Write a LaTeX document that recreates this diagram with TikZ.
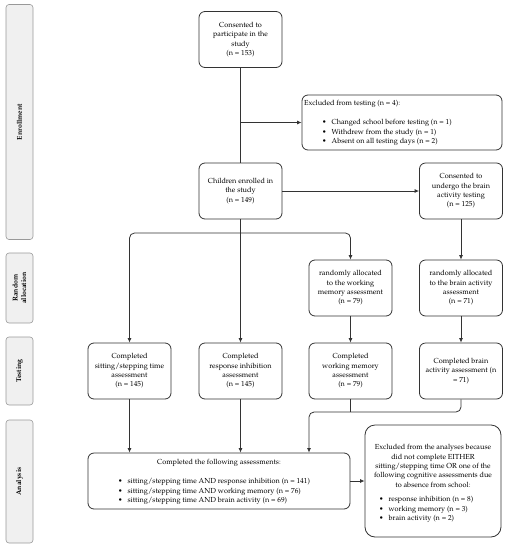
\documentclass[tikz,border=0pt]{standalone}
\usepackage[T1]{fontenc}
\usepackage{mathpazo}
\usetikzlibrary{arrows.meta}
\definecolor{lc}{HTML}{333333}
\tikzset{
  box/.style={draw=lc, line width=0.8pt, rounded corners=6pt, align=center, inner sep=1pt,
    font=\fontsize{7.3}{9.4}\selectfont, text=black},
  std/.style={box, minimum width=83pt, minimum height=56pt},
  phase/.style={draw=gray!80, fill=gray!12, line width=0.6pt, rounded corners=3pt,
    minimum height=27pt, rotate=90, font=\bfseries\fontsize{7}{8.5}\selectfont, align=center, inner sep=0pt},
  conn/.style={draw=lc, line width=0.8pt},
  arr/.style={conn, -{Latex[length=4.5pt,width=4pt]}},
  bul/.style={inner sep=0pt, anchor=west, font=\fontsize{7.3}{9.4}\selectfont}
}
\begin{document}
\begin{tikzpicture}[x=1pt,y=-1pt]
\useasboundingbox (0,0) rectangle (509,550);
% phase labels
\node[phase, minimum width=235pt] (pe) at (19.5,122) {Enrollment};
\node[phase, minimum width=70pt] (pr) at (19.5,288) {Random\\allocation};
\node[phase, minimum width=68pt] (pt) at (19.5,371) {Testing};
\node[phase, minimum width=123pt] (pa) at (19.5,481.5) {Analysis};
% boxes
\node[std] (c1) at (240.5,39.5) {Consented to\\participate in the\\study\\(n = 153)};
\node[box, minimum width=200pt, minimum height=55pt] (ex) at (402,122.5) {};
\node[bul] (ext) at (304,104) {Excluded from testing (n = 4):};
\node[bul] (e1) at (322,123) {\textbullet\hspace{5pt}Changed school before testing (n = 1)};
\node[bul] (e2) at (322,132.5) {\textbullet\hspace{5pt}Withdrew from the study (n = 1)};
\node[bul] (e3) at (322,142) {\textbullet\hspace{5pt}Absent on all testing days (n = 2)};
\node[std] (c2) at (240.5,191) {Children enrolled in\\the study\\(n = 149)};
\node[std] (b1) at (461,191) {Consented to\\undergo the brain\\activity testing\\(n = 125)};
\node[std] (r1) at (350.5,288) {randomly allocated\\to the working\\memory assessment\\(n = 79)};
\node[std] (r2) at (461,288) {randomly allocated\\to the brain activity\\assessment\\(n = 71)};
\node[std] (t1) at (129.5,371) {Completed\\sitting/stepping time\\assessment\\(n = 145)};
\node[std] (t2) at (240.5,371) {Completed\\response inhibition\\assessment\\(n = 145)};
\node[std] (t3) at (350.5,371) {Completed\\working memory\\assessment\\(n = 79)};
\node[std] (t4) at (461,371) {Completed brain\\activity assessment (n\\= 71)};
\node[box, minimum width=262pt, minimum height=56pt] (cm) at (219,481) {};
\node[inner sep=0pt, font=\fontsize{7.3}{9.4}\selectfont] (cmt) at (219,463) {Completed the following assessments:};
\node[bul] (m1) at (118,482) {\textbullet\hspace{5pt}sitting/stepping time AND response inhibition (n = 141)};
\node[bul] (m2) at (118,491.5) {\textbullet\hspace{5pt}sitting/stepping time AND working memory (n = 76)};
\node[bul] (m3) at (118,501) {\textbullet\hspace{5pt}sitting/stepping time AND brain activity (n = 69)};
\node[box, rounded corners=10pt, minimum width=136pt, minimum height=112pt] (ea) at (433,481) {};
\node[inner sep=0pt, align=center, font=\fontsize{7.3}{9.4}\selectfont] (eat) at (433,466) {Excluded from the analyses because\\did not complete EITHER\\sitting/stepping time OR one of the\\following cognitive assessments due\\to absence from school:};
\node[bul] (a1) at (379,500) {\textbullet\hspace{5pt}response inhibition (n = 8)};
\node[bul] (a2) at (379,509.5) {\textbullet\hspace{5pt}working memory (n = 3)};
\node[bul] (a3) at (379,519) {\textbullet\hspace{5pt}brain activity (n = 2)};
% connectors
\coordinate (j1) at (240.5,122.5);
\coordinate (j2) at (240.5,233);
\coordinate (j3) at (309,412);
\draw[conn] (c1) -- (c2);
\draw[arr] (j1) -- (ex);
\draw[arr] (c2) -- (b1);
\draw[arr] (c2) -- (t2);
\draw[arr, rounded corners=5pt] (j2) -| (t1.north);
\draw[arr, rounded corners=5pt] (j2) -| (r1.north);
\draw[arr] (b1) -- (r2);
\draw[arr] (r1) -- (t3);
\draw[arr] (r2) -- (t4);
\draw[arr] (t1) -- (t1|-cm.north);
\draw[arr] (t2) -- (t2|-cm.north);
\draw[conn] (t3) -- (t3|-j3);
\draw[arr, rounded corners=5pt] (t4.south) |- (j3) -- (j3|-cm.north);
\draw[arr] (cm) -- (ea);
\end{tikzpicture}
\end{document}
